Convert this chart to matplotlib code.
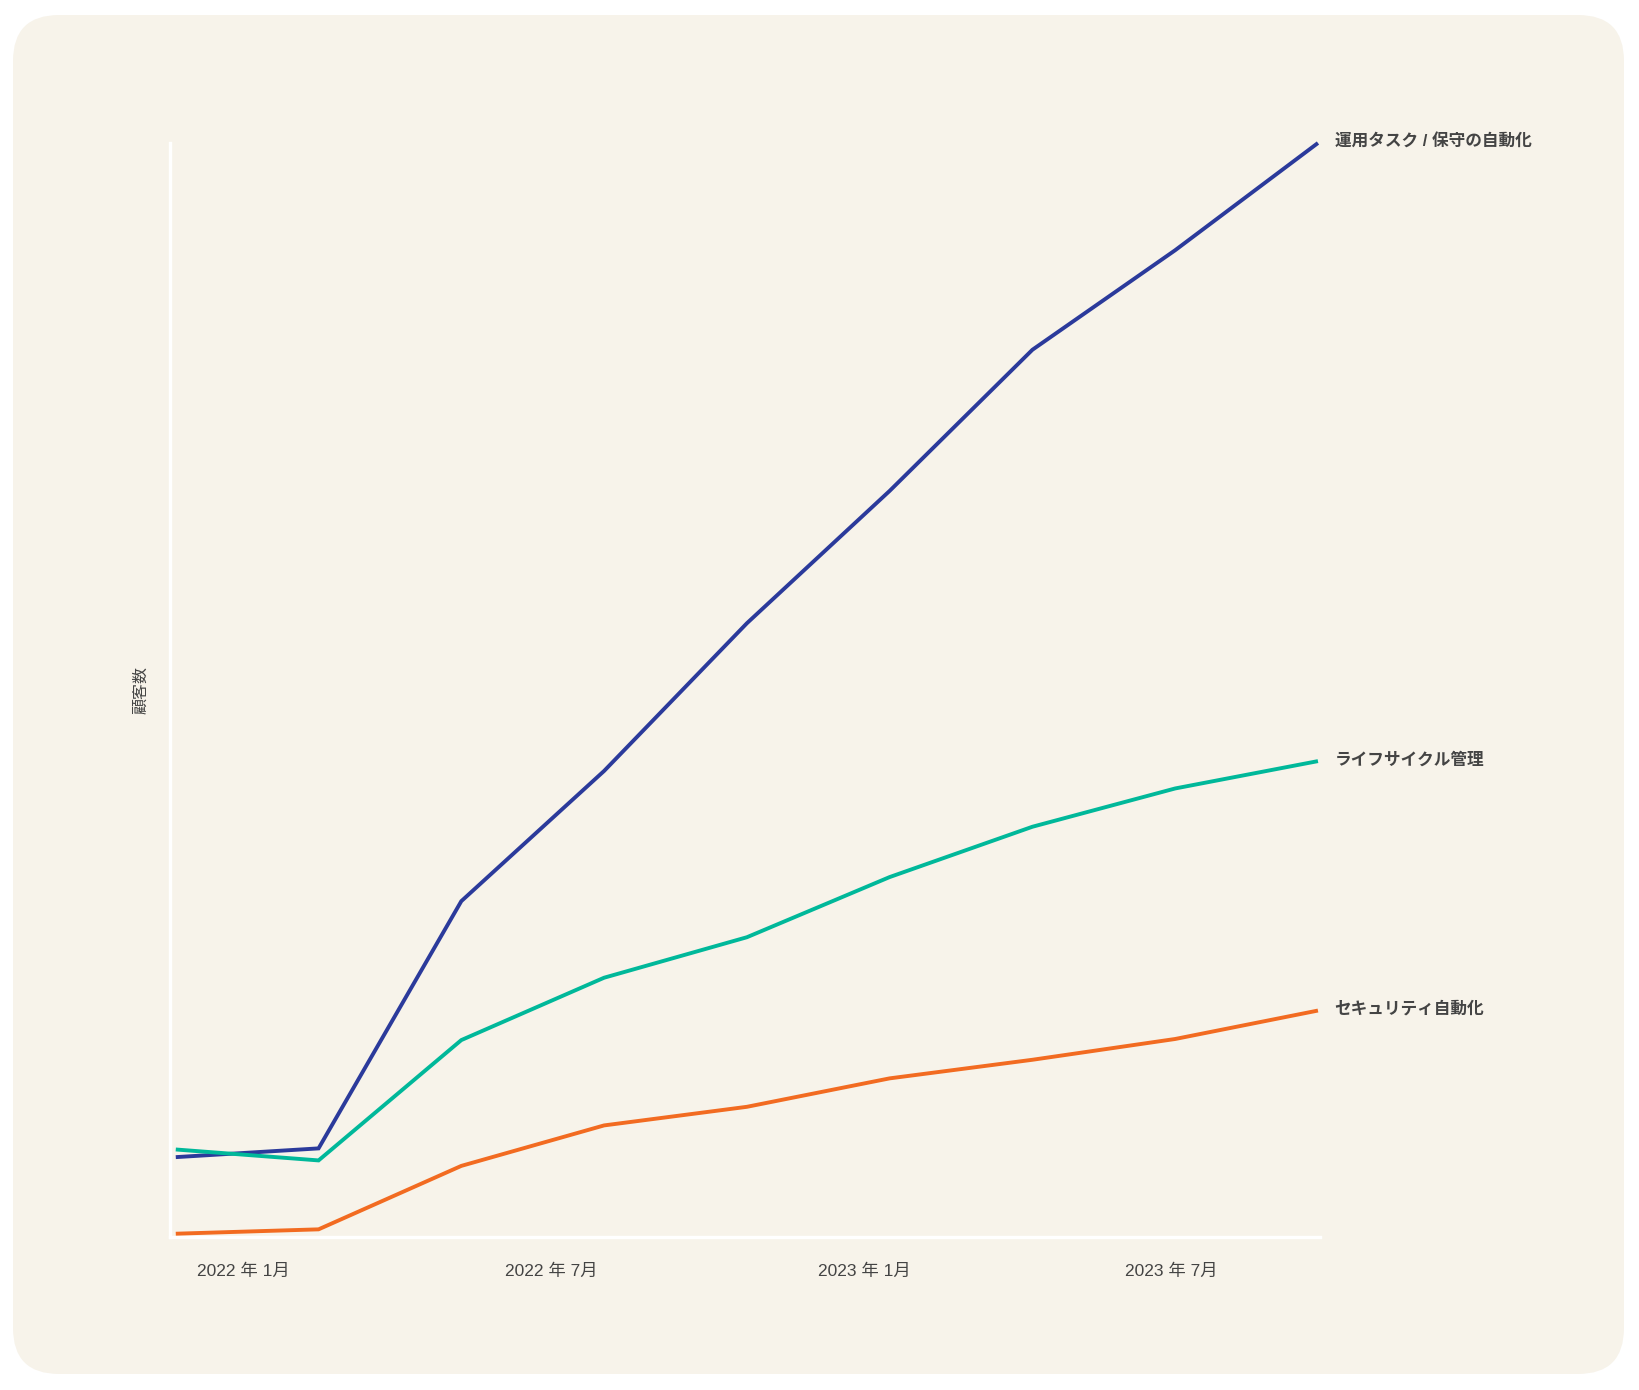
import matplotlib
matplotlib.use("Agg")
import matplotlib.pyplot as plt
import matplotlib.dates as mdates
from matplotlib.patches import FancyBboxPatch
import datetime as dt

plt.rcParams['font.family'] = ['Liberation Sans', 'Noto Sans CJK JP', 'DejaVu Sans']

# ---- data ----
dates = ["2021-11-22", "2022-02-14", "2022-05-09", "2022-08-01", "2022-10-24",
         "2023-01-16", "2023-04-10", "2023-07-03", "2023-09-25"]
series_names = ["運用タスク / 保守の自動化", "ライフサイクル管理", "セキュリティ自動化"]
ops_automation = [7.3, 8.1, 30.7, 42.6, 56.1, 68.2, 81.1, 90.2, 100.0]
lifecycle_mgmt = [8.0, 7.0, 18.0, 23.7, 27.4, 32.9, 37.5, 41.0, 43.5]
security_auto = [0.3, 0.7, 6.5, 10.2, 11.9, 14.5, 16.2, 18.1, 20.7]
tick_dates = ["2022-01-01", "2022-07-01", "2023-01-01", "2023-07-01"]
y_label = "顧客数"

colors = ["#2b3a9b", "#00b89a", "#f26b21"]
bg = "#f7f3ea"

W, H = 1640, 1390
fig = plt.figure(figsize=(W / 100, H / 100), dpi=100)
fig.patch.set_facecolor("white")

# rounded background panel (pixel coordinates)
bgax = fig.add_axes([0, 0, 1, 1], zorder=-5)
bgax.set_xlim(0, W)
bgax.set_ylim(0, H)
bgax.axis("off")
bgax.add_patch(FancyBboxPatch((13, 16), 1624 - 13, 1375 - 16,
                              boxstyle="round,pad=0,rounding_size=46",
                              facecolor=bg, edgecolor="none"))

ax = fig.add_axes([170 / W, (H - 1237) / H, (1320 - 170) / W, (1237 - 143) / H], zorder=1)
ax.set_facecolor("none")

x = [dt.datetime.strptime(d, "%Y-%m-%d") for d in dates]
xn = mdates.date2num(x)
for vals, c, name in zip([ops_automation, lifecycle_mgmt, security_auto], colors, series_names):
    ax.plot(xn, vals, color=c, lw=2.8, solid_capstyle="butt", solid_joinstyle="miter",
            zorder=3, clip_on=False)
    ax.annotate(name, xy=(xn[-1], vals[-1]), xytext=(12, 1), textcoords="offset points",
                ha="left", va="center", fontsize=12, fontweight="bold", color="#444444")

ax.set_xlim(xn[0] - 3.4, xn[-1] + 1.2)
ax.set_ylim(0, 100)

for s in ["top", "right"]:
    ax.spines[s].set_visible(False)
for s in ["left", "bottom"]:
    ax.spines[s].set_color("white")
    ax.spines[s].set_linewidth(2.4)

ax.set_yticks([])
tn = [mdates.date2num(dt.datetime.strptime(d, "%Y-%m-%d")) for d in tick_dates]
ax.set_xticks(tn)
ax.set_xticklabels([f"{d[:4]} 年 {int(d[5:7])}月" for d in tick_dates])
ax.tick_params(axis="x", length=0, pad=19, labelsize=12.5, labelcolor="#444444")

ax.set_ylabel(y_label, fontsize=11.5, color="#444444", labelpad=16)

fig.savefig("out.png", dpi=100, facecolor="white")
